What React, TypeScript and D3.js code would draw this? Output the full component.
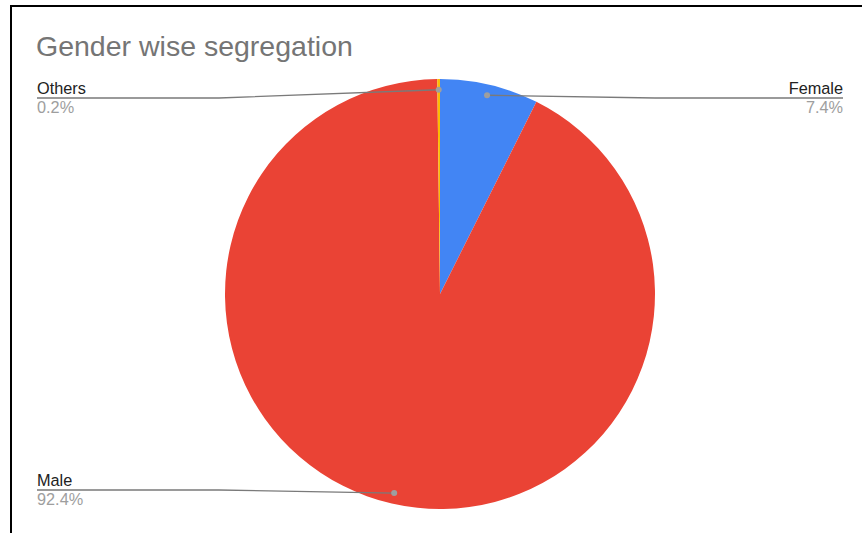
import React from "react";
import * as d3 from "d3";

const title = "Gender wise segregation";
const categories = ["Female", "Male", "Others"];
const values = [7.4, 92.4, 0.2];
const colors = ["#4285F4", "#EA4335", "#FBBC04"];

const W = 862;
const H = 533;
const cx = 440;
const cy = 294;
const R = 215;
const FONT = "'Liberation Sans', Arial, sans-serif";

// label layout: side and line y
const labelLayout: Record<string, { side: "left" | "right"; y: number }> = {
  Female: { side: "right", y: 98 },
  Male: { side: "left", y: 490 },
  Others: { side: "left", y: 98 },
};

export default function App() {
  const pie = d3.pie<number>().sort(null).value((d) => d);
  const arcs = pie(values);
  const arc = d3.arc<d3.PieArcDatum<number>>().innerRadius(0).outerRadius(R);
  const total = d3.sum(values);
  const fmt = (v: number) => `${((v / total) * 100).toFixed(1)}%`;

  return (
    <div style={{ position: "fixed", left: 0, top: 0, width: W, height: H, background: "#fff" }}>
      <svg width={W} height={H} style={{ display: "block" }}>
        <rect x={0} y={0} width={W} height={H} fill="#fff" />
        <line x1={10} y1={6} x2={W} y2={6} stroke="#000" strokeWidth={2} />
        <line x1={11} y1={5} x2={11} y2={H} stroke="#000" strokeWidth={2} />
        <text x={36} y={55.5} fontFamily={FONT} fontSize={28.5} fill="#757575">
          {title}
        </text>
        <g transform={`translate(${cx},${cy})`}>
          {arcs.map((a, i) => (
            <path key={categories[i]} d={arc(a) || ""} fill={colors[i]} stroke="none" />
          ))}
        </g>
        {arcs.map((a, i) => {
          const name = categories[i];
          const lay = labelLayout[name];
          const mid = (a.startAngle + a.endAngle) / 2;
          const dx = cx + Math.sin(mid) * R * 0.95;
          const dy = cy - Math.cos(mid) * R * 0.95;
          const left = lay.side === "left";
          const kinkX = left ? cx - R - 6 : cx + R;
          const endX = left ? 37 : 843;
          const anchor = left ? "start" : "end";
          return (
            <g key={"lab" + name}>
              <polyline
                points={`${dx},${dy} ${kinkX},${lay.y} ${endX},${lay.y}`}
                fill="none"
                stroke="#7a7a7a"
                strokeWidth={1.3}
              />
              <circle cx={dx} cy={dy} r={3} fill="#9e9e9e" />
              <text x={endX} y={lay.y - 4.5} textAnchor={anchor} fontFamily={FONT} fontSize={16.3} fill="#222">
                {name}
              </text>
              <text x={endX} y={lay.y + 15} textAnchor={anchor} fontFamily={FONT} fontSize={16.3} fill="#9e9e9e">
                {fmt(values[i])}
              </text>
            </g>
          );
        })}
      </svg>
    </div>
  );
}
